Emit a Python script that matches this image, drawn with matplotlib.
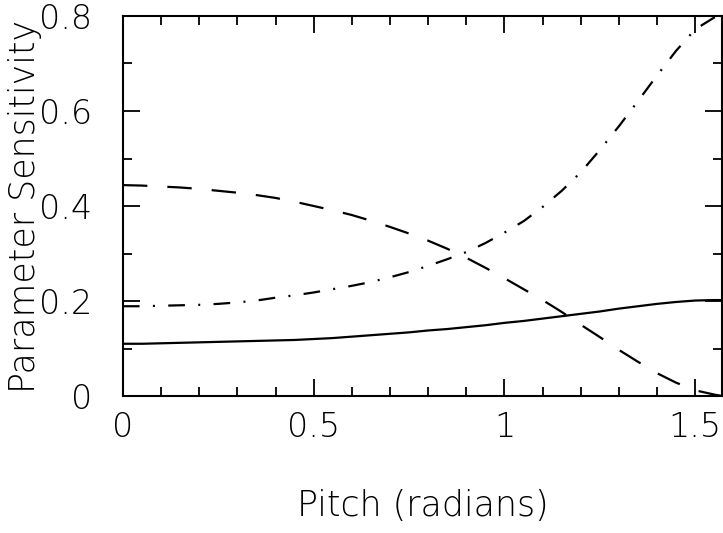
import matplotlib
matplotlib.use("Agg")
import matplotlib.pyplot as plt
from matplotlib.ticker import MultipleLocator

# pitch angle (radians), read every 0.05 off the chart
pitch = [0.00, 0.05, 0.10, 0.15, 0.20, 0.25, 0.30, 0.35, 0.40, 0.45,
         0.50, 0.55, 0.60, 0.65, 0.70, 0.75, 0.80, 0.85, 0.90, 0.95,
         1.00, 1.05, 1.10, 1.15, 1.20, 1.25, 1.30, 1.35, 1.40, 1.45,
         1.50, 1.55, 1.5708]

sens_solid = [0.110, 0.110, 0.111, 0.112, 0.113, 0.114, 0.115, 0.116, 0.117, 0.118,
              0.120, 0.122, 0.125, 0.128, 0.131, 0.134, 0.138, 0.141, 0.145, 0.149,
              0.154, 0.158, 0.163, 0.168, 0.173, 0.178, 0.184, 0.189, 0.194, 0.198,
              0.201, 0.202, 0.202]

sens_dashed = [0.444, 0.443, 0.441, 0.439, 0.436, 0.432, 0.428, 0.423, 0.417, 0.409,
               0.400, 0.391, 0.381, 0.369, 0.356, 0.342, 0.327, 0.310, 0.291, 0.270,
               0.248, 0.225, 0.202, 0.177, 0.150, 0.124, 0.097, 0.072, 0.048, 0.028,
               0.012, 0.003, 0.000]

sens_dashdot = [0.189, 0.189, 0.190, 0.191, 0.192, 0.194, 0.197, 0.201, 0.207, 0.212,
                0.218, 0.225, 0.232, 0.240, 0.250, 0.261, 0.274, 0.288, 0.303, 0.322,
                0.344, 0.368, 0.398, 0.432, 0.471, 0.518, 0.568, 0.621, 0.675, 0.727,
                0.772, 0.797, 0.802]


def main():
    plt.rcParams['font.family'] = ['DejaVu Sans']
    plt.rcParams['font.weight'] = 'light'
    plt.rcParams['axes.labelweight'] = 'light'
    fig = plt.figure(figsize=(7.23, 5.33), dpi=100)
    ax = fig.add_axes([0.170, 0.257, 0.829, 0.713])

    lw = 1.6
    ax.plot(pitch, sens_solid, color='black', lw=lw, solid_capstyle='butt')
    ax.plot(pitch, sens_dashed, color='black', lw=lw, dashes=(11, 9),
            dash_capstyle='butt')
    ax.plot(pitch, sens_dashdot, color='black', lw=lw, dashes=(7.5, 6, 0.9, 6),
            dash_capstyle='butt')

    ax.set_xlim(0, 1.5708)
    ax.set_ylim(0, 0.8)
    ax.xaxis.set_major_locator(MultipleLocator(0.5))
    ax.xaxis.set_minor_locator(MultipleLocator(0.1))
    ax.yaxis.set_major_locator(MultipleLocator(0.2))
    ax.yaxis.set_minor_locator(MultipleLocator(0.1))
    ax.xaxis.set_major_formatter(lambda v, p: f"{v:g}")
    ax.yaxis.set_major_formatter(lambda v, p: f"{v:g}")

    ax.tick_params(which='both', direction='in', top=True, right=True, width=1.3)
    ax.tick_params(which='major', length=12, labelsize=24)
    ax.tick_params(axis='x', which='major', pad=11)
    ax.tick_params(axis='y', which='major', pad=22)
    ax.tick_params(which='minor', length=6.5)
    for s in ax.spines.values():
        s.set_linewidth(1.5)

    ax.set_xlabel("Pitch (radians)", fontsize=25)
    ax.set_ylabel("Parameter Sensitivity", fontsize=25)
    ax.xaxis.set_label_coords(0.5, -0.245)
    ax.yaxis.set_label_coords(-0.135, 0.5)

    fig.savefig("out.png", dpi=100)


if __name__ == "__main__":
    main()
